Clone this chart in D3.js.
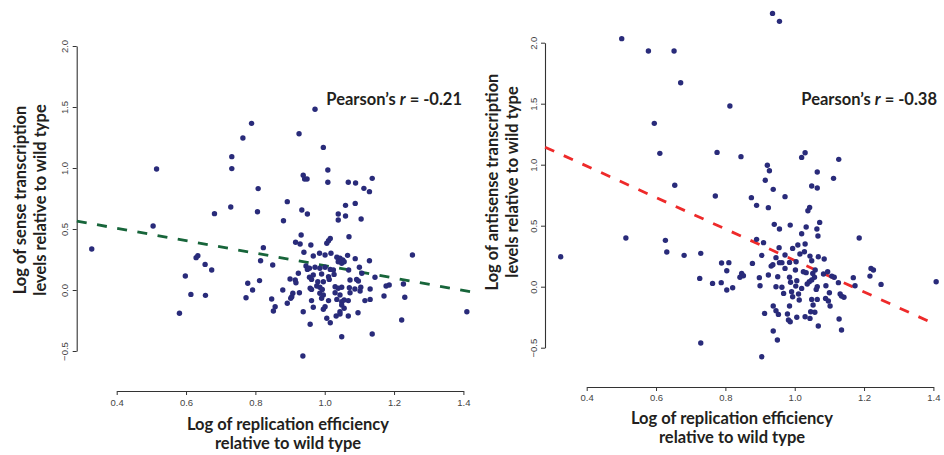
<!DOCTYPE html>
<html>
<head>
<meta charset="utf-8">
<script src="https://cdn.jsdelivr.net/npm/d3@7"></script>
<style>
  body { margin: 0; background: #fff; }
  svg { display: block; }
  .tick text { font-family: "Liberation Sans", Arial, sans-serif; font-size: 9.5px; fill: #444; }
  .axis path, .axis line { stroke: #333; }
  .title { font-family: Lato, "Open Sans", sans-serif; font-weight: bold; fill: #231f20; }
</style>
</head>
<body>
<svg id="chart" width="944" height="455"></svg>
<script>
// tick labels
var xTicks = [0.4, 0.6, 0.8, 1.0, 1.2, 1.4];
var yTicks = [-0.5, 0.0, 0.5, 1.0, 1.5, 2.0];

// sense transcription (left panel)
var senseX = [0.328, 0.515, 0.505, 0.598, 0.614, 0.581, 0.629, 0.634, 0.655, 0.674, 0.656, 0.682, 0.729, 0.732, 0.732,
  0.764, 0.789, 0.808, 0.806, 0.778, 0.792, 0.773, 0.812, 0.815, 0.823, 0.926, 0.938, 0.942, 0.949, 0.937, 0.972,
  0.996, 1.009, 1.009, 1.068, 1.089, 1.113, 1.129, 1.137, 1.253, 1.410,
  0.881, 0.892, 0.934, 0.950, 1.039, 1.039, 1.060, 1.060, 1.088, 1.105, 1.070, 0.932, 0.916, 0.929, 0.960, 1.006,
  1.011, 1.016, 0.940, 0.967, 0.985, 1.001, 1.018, 1.035, 1.044, 1.052, 1.066, 1.088, 1.129, 0.946, 0.950, 0.956,
  0.972, 0.986, 1.001, 1.016, 1.025, 1.039, 1.049, 1.056, 0.924, 0.967, 0.991, 1.011, 1.027, 1.069, 1.100, 1.107,
  0.900, 0.915, 0.917, 0.956, 0.962, 0.980, 0.996, 1.013, 1.073, 1.092, 1.097, 1.145, 0.879, 0.908, 0.927, 0.905,
  0.902, 0.958, 0.962, 0.977, 0.986, 0.993, 0.986, 0.996, 1.030, 1.039, 1.049, 1.044, 1.030, 1.071, 1.073, 1.087,
  1.104, 1.102, 1.131, 0.847, 0.892, 0.962, 0.991, 1.011, 1.035, 1.049, 1.056, 1.068, 1.116, 1.131, 1.171, 1.177,
  1.186, 1.231, 1.227, 0.857, 0.852, 0.967, 0.996, 1.001, 1.049, 1.056, 1.044, 0.938, 1.006, 1.016, 1.033, 1.044,
  1.068, 1.096, 0.958, 1.049, 1.137, 1.222, 0.850];
var senseY = [0.336, 0.992, 0.525, 0.115, -0.036, -0.191, 0.265, 0.281, 0.210, 0.164, -0.044, 0.626, 0.680, 1.093, 0.995,
  1.246, 1.366, 0.831, 0.642, 0.055, 0.000, -0.063, 0.077, 0.240, 0.347, 1.281, 0.940, 0.910, 0.910, -0.541, 1.481,
  1.169, 0.984, 0.883, 0.883, 0.877, 0.833, 0.806, 0.915, 0.287, -0.178,
  0.568, 0.724, 0.656, 0.623, 0.623, 0.574, 0.607, 0.694, 0.710, 0.582, 0.437, 0.451, 0.391, 0.377, 0.369, 0.383,
  0.404, 0.423, 0.309, 0.279, 0.301, 0.287, 0.301, 0.268, 0.260, 0.246, 0.284, 0.257, 0.240, 0.197, 0.169, 0.178,
  0.186, 0.178, 0.186, 0.169, 0.164, 0.232, 0.219, 0.232, 0.137, 0.123, 0.131, 0.109, 0.128, 0.164, 0.186, 0.137,
  0.090, 0.082, 0.060, 0.104, 0.087, 0.068, 0.068, 0.087, 0.082, 0.087, 0.074, 0.104, 0.000, -0.027, -0.022, -0.055,
  -0.068, 0.014, 0.005, 0.033, 0.022, 0.005, -0.027, -0.041, 0.027, 0.014, 0.022, -0.041, -0.022, 0.019, -0.022, 0.008,
  0.022, -0.008, 0.008, -0.074, -0.109, -0.087, -0.068, -0.087, -0.077, -0.096, -0.082, -0.087, -0.087, -0.077, -0.049, 0.033,
  0.041, -0.060, 0.049, -0.137, -0.172, -0.142, -0.158, -0.137, -0.123, -0.150, -0.178, -0.178, -0.232, -0.268, -0.213, -0.197,
  -0.213, -0.186, -0.281, -0.383, -0.361, -0.246, 0.205];

// antisense transcription (right panel)
var antiX = [0.325, 0.501, 0.578, 0.652, 0.671, 0.595, 0.813, 0.611, 0.776, 0.845, 0.654, 0.771, 0.513, 0.627, 0.631,
  0.681, 0.729, 0.726, 0.763, 0.789, 0.810, 0.804, 0.788, 0.804, 0.821, 0.847, 0.852, 0.842, 0.729, 0.905, 0.936,
  0.956, 0.875, 0.890, 0.921, 0.927, 0.915, 0.938, 0.972, 0.924, 0.890, 0.910, 0.941, 0.956, 0.987, 0.878, 0.905,
  0.898, 0.900, 1.020, 1.030, 1.127, 1.065, 1.065, 1.049, 1.112, 1.038, 1.043, 1.072, 1.064, 1.067, 1.033, 1.020,
  1.186, 1.408, 1.249, 1.220, 1.227, 1.169, 1.174, 1.217, 1.128, 1.135, 1.068, 0.938, 0.950, 0.913,
  0.955, 0.994, 1.009, 1.015, 1.028, 1.030, 0.946, 0.972, 0.963, 0.956, 0.985, 1.004, 1.044, 1.049, 1.068, 1.085,
  0.932, 0.937, 0.972, 1.002, 1.025, 1.033, 1.059, 1.052, 1.083, 1.095, 1.107, 1.114, 1.126, 0.924, 0.951, 0.985,
  0.988, 1.006, 1.003, 1.020, 1.036, 1.042, 1.049, 1.057, 1.065, 1.062, 1.090, 1.100, 1.089, 1.097, 1.102, 1.131,
  1.135, 1.142, 0.946, 0.963, 0.968, 0.991, 0.994, 1.011, 1.013, 0.985, 0.979, 1.006, 1.030, 1.044, 1.049, 1.053,
  1.046, 1.058, 1.065, 0.938, 0.946, 0.953, 0.982, 0.987];
var antiY = [0.246, 2.033, 1.932, 1.932, 1.672, 1.339, 1.481, 1.093, 1.101, 1.066, 0.831, 0.743, 0.399, 0.380, 0.284,
  0.257, 0.273, 0.068, 0.027, 0.194, 0.197, 0.131, 0.033, -0.027, -0.008, 0.109, 0.090, 0.077, -0.462, -0.574, 2.240,
  2.175, 0.730, 0.667, 0.995, 0.951, 0.872, 0.798, 0.738, 0.648, 0.388, 0.361, 0.511, 0.473, 0.505, 0.191, 0.257,
  0.074, 0.008, 1.060, 1.098, 1.044, 0.940, 0.809, 0.825, 0.888, 0.623, 0.650, 0.527, 0.473, 0.415, 0.489, 0.434,
  0.399, 0.041, 0.019, 0.150, 0.137, 0.074, 0.008, 0.087, -0.265, -0.355, -0.322, -0.363, -0.437, -0.219,
  0.320, 0.314, 0.342, 0.268, 0.287, 0.350, 0.238, 0.260, 0.197, 0.197, 0.199, 0.205, 0.251, 0.213, 0.246, 0.227,
  0.169, 0.180, 0.150, 0.137, 0.123, 0.115, 0.137, 0.109, 0.104, 0.123, 0.087, 0.077, 0.033, 0.096, 0.082, 0.077,
  0.036, 0.049, 0.005, -0.014, 0.022, 0.041, 0.055, 0.077, 0.000, -0.022, 0.008, -0.049, -0.096, -0.117, -0.158, -0.060,
  -0.077, -0.087, 0.000, -0.005, -0.055, -0.041, -0.082, -0.060, -0.109, -0.158, -0.224, -0.251, -0.246, -0.260, -0.104, -0.150,
  -0.205, -0.210, -0.104, -0.158, -0.197, -0.227, -0.273, -0.287];

// fitted lines: y = a + b*x, drawn over [x0, x1]
var senseFit = { a: 0.71, b: -0.51, x0: 0.285, x1: 1.44 };
var antiFit = { a: 1.505, b: -1.29, x0: 0.28, x1: 1.405 };
var senseR = "-0.21";
var antiR = "-0.38";

var svg = d3.select("#chart");

function drawPanel(p) {
    var x = d3.scaleLinear().domain([0.4, 1.4]).range([p.x04, p.x04 + 346.7]);
    var y = d3.scaleLinear().domain([-0.5, 2.0]).range([p.y0 + 61, p.y0 - 244]);
    var g = svg.append("g");

    // x axis
    var xa = g.append("g")
        .attr("class", "axis")
        .attr("transform", "translate(0," + p.xAxisY + ")")
        .call(d3.axisBottom(x).tickValues(xTicks).tickFormat(d3.format(".1f")).tickSize(4).tickSizeOuter(0));
    xa.selectAll(".tick text").attr("y", p.xLabOff).attr("dy", 0);
    xa.select(".domain").attr("stroke-width", 1.1);

    // y axis
    var ya = g.append("g")
        .attr("class", "axis")
        .attr("transform", "translate(" + p.yAxisX + ",0)")
        .call(d3.axisLeft(y).tickValues(yTicks).tickFormat(d3.format(".1f")).tickSize(4).tickSizeOuter(0));
    ya.selectAll(".tick text")
        .attr("transform", "rotate(-90)")
        .attr("x", 0)
        .attr("y", -p.yLabOff)
        .attr("dy", 0)
        .attr("text-anchor", "middle");
    ya.select(".domain").attr("stroke-width", 1.1);

    // regression line
    g.append("line")
        .attr("x1", x(p.fit.x0)).attr("y1", y(p.fit.a + p.fit.b * p.fit.x0))
        .attr("x2", x(p.fit.x1)).attr("y2", y(p.fit.a + p.fit.b * p.fit.x1))
        .attr("stroke", p.lineColor)
        .attr("stroke-width", 2.8)
        .attr("stroke-dasharray", "10,10.5");

    // points
    g.selectAll("circle")
        .data(p.xs)
        .enter()
        .append("circle")
        .attr("cx", function (d) { return x(d); })
        .attr("cy", function (d, i) { return y(p.ys[i]); })
        .attr("r", 2.7)
        .attr("fill", "#292b7a");

    // pearson label
    var t = g.append("text")
        .attr("class", "title")
        .attr("x", p.rX).attr("y", 105)
        .attr("text-anchor", "end")
        .style("font-size", "16.5px");
    t.append("tspan").text("Pearson\u2019s ");
    t.append("tspan").style("font-style", "italic").text("r");
    t.append("tspan").text(" = " + p.r);

    // x title
    [p.xTitle1, p.xTitle2].forEach(function (s, i) {
        g.append("text")
            .attr("class", "title")
            .attr("x", p.xTitleX).attr("y", p.xTitleY + 19 * i)
            .attr("text-anchor", "middle")
            .style("font-size", "16.5px")
            .text(s);
    });

    // y title
    p.yTitles.forEach(function (s, i) {
        g.append("text")
            .attr("class", "title")
            .attr("transform", "translate(" + (p.yTitleX + 20 * i) + "," + p.yTitleY + ") rotate(-90)")
            .attr("text-anchor", "middle")
            .style("font-size", "16.5px")
            .text(s);
    });
}

drawPanel({
    x04: 116.7, y0: 290, xAxisY: 391, yAxisX: 76.7, xLabOff: 14.5, yLabOff: 9,
    xs: senseX, ys: senseY, fit: senseFit, lineColor: "#17653a", r: senseR, rX: 462,
    xTitle1: "Log of replication efficiency", xTitle2: "relative to wild type", xTitleX: 288, xTitleY: 430,
    yTitles: ["Log of sense transcription", "levels relative to wild type"], yTitleX: 26, yTitleY: 200
});

drawPanel({
    x04: 586.7, y0: 286.7, xAxisY: 387, yAxisX: 545, xLabOff: 13.5, yLabOff: 8,
    xs: antiX, ys: antiY, fit: antiFit, lineColor: "#ee2a2a", r: antiR, rX: 937,
    xTitle1: "Log of replication efficiency", xTitle2: "relative to wild type", xTitleX: 732, xTitleY: 424,
    yTitles: ["Log of antisense transcription", "levels relative to wild type"], yTitleX: 498, yTitleY: 182
});
</script>
</body>
</html>
